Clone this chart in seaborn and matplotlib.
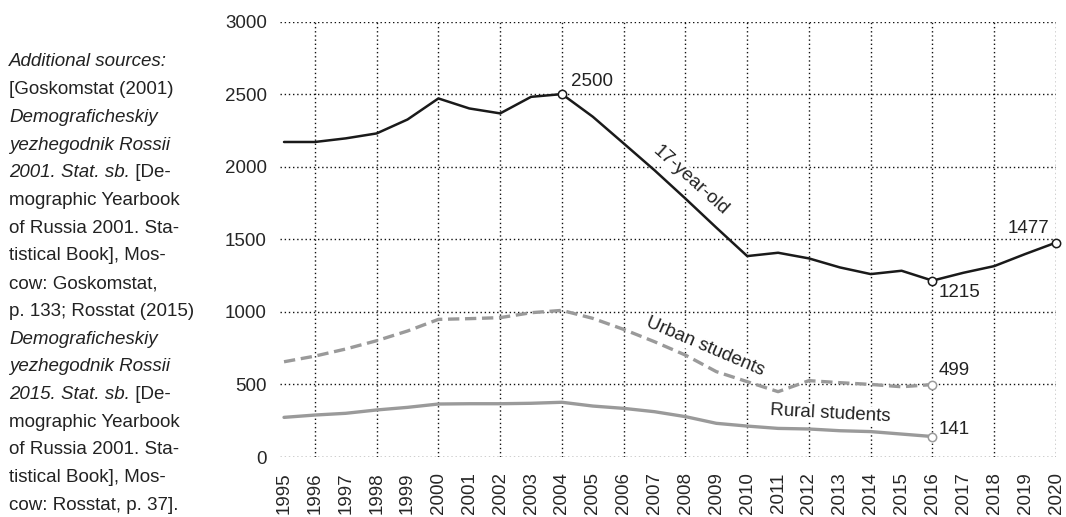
import numpy as np
import pandas as pd
import matplotlib
matplotlib.use("Agg")
import matplotlib.pyplot as plt
import seaborn as sns
from matplotlib import font_manager

# ---------------- data ----------------
years = list(range(1995, 2021))
age17 = [2170, 2170, 2195, 2229, 2325, 2470, 2401, 2367, 2481, 2500,
         2344, 2160, 1975, 1780, 1580, 1384, 1407, 1368, 1306, 1260,
         1283, 1215, 1269, 1315, 1398, 1477]
urban_years = list(range(1995, 2017))
urban = [656, 695, 744, 801, 868, 948, 953, 960, 994, 1010,
         955, 879, 794, 702, 588, 519, 450, 526, 512, 500, 484, 499]
rural_years = list(range(1995, 2017))
rural = [273, 289, 301, 324, 342, 365, 367, 367, 370, 377,
         351, 335, 312, 278, 232, 213, 197, 193, 181, 175, 158, 141]
series_labels = ["17-year-old", "Urban students", "Rural students"]
y_ticks = [0, 500, 1000, 1500, 2000, 2500, 3000]

source_lines = [
    [("Additional sources:", "italic")],
    [("[Goskomstat (2001)", "normal")],
    [("Demograficheskiy", "italic")],
    [("yezhegodnik Rossii", "italic")],
    [("2001. Stat. sb.", "italic"), (" [De-", "normal")],
    [("mographic Yearbook", "normal")],
    [("of Russia 2001. Sta-", "normal")],
    [("tistical Book], Mos-", "normal")],
    [("cow: Goskomstat,", "normal")],
    [("p. 133; Rosstat (2015)", "normal")],
    [("Demograficheskiy", "italic")],
    [("yezhegodnik Rossii", "italic")],
    [("2015. Stat. sb.", "italic"), (" [De-", "normal")],
    [("mographic Yearbook", "normal")],
    [("of Russia 2001. Sta-", "normal")],
    [("tistical Book], Mos-", "normal")],
    [("cow: Rosstat, p. 37].", "normal")],
]

# ---------------- style ----------------
sns.set_theme(style="white")
avail = {f.name for f in font_manager.fontManager.ttflist}
fam = "Liberation Sans" if "Liberation Sans" in avail else "DejaVu Sans"
plt.rcParams["font.family"] = [fam, "DejaVu Sans"]
plt.rcParams["text.color"] = "#222222"

W, H = 1066, 517
fig = plt.figure(figsize=(W / 100, H / 100), dpi=100)
ax = fig.add_axes([280 / W, 1 - 457 / H, (1056 - 280) / W, (457 - 21.5) / H])

df17 = pd.DataFrame({"year": years, "value": age17})
dfu = pd.DataFrame({"year": urban_years, "value": urban})
dfr = pd.DataFrame({"year": rural_years, "value": rural})

black = "#1a1a1a"
gray = "#9a9a9a"

sns.lineplot(data=df17, x="year", y="value", ax=ax, color=black, lw=1.8, zorder=4)
sns.lineplot(data=dfu, x="year", y="value", ax=ax, color=gray, lw=2.4,
             linestyle=(0, (3.4, 1.7)), zorder=3)
sns.lineplot(data=dfr, x="year", y="value", ax=ax, color=gray, lw=2.4, zorder=3)

# open markers
mk17 = df17[df17["year"].isin([2004, 2016, 2020])]
ax.scatter(mk17["year"], mk17["value"], s=36, facecolor="white",
           edgecolor=black, linewidth=1.1, zorder=6, clip_on=False)
for d in (dfu, dfr):
    last = d[d["year"] == 2016]
    ax.scatter(last["year"], last["value"], s=36, facecolor="white",
               edgecolor=gray, linewidth=1.1, zorder=6, clip_on=False)

ax.set_xlim(1994.87, 2020)
ax.set_ylim(0, 3000)
ax.set_xticks(years)
ax.set_xticklabels([str(y) for y in years], rotation=90, fontsize=13.5)
ax.set_yticks(y_ticks)
ax.set_yticklabels([str(v) for v in y_ticks], fontsize=13.5)
ax.tick_params(axis="x", length=0, pad=11)
ax.tick_params(axis="y", length=0, pad=9.5)
ax.set_xlabel("")
ax.set_ylabel("")
for s in ax.spines.values():
    s.set_visible(False)

# grid
for v in y_ticks:
    ax.axhline(v, color="#111111", lw=1.0, ls=(0, (1, 2)), zorder=1)
for yr in range(1996, 2021, 2):
    ax.axvline(yr, ymin=0, ymax=1, color="#111111", lw=1.0, ls=(0, (1, 2)), zorder=1)

# value labels
fs = 13.5
ax.text(2004.28, 2590, "2500", fontsize=fs, ha="left", va="center")
ax.text(2019.8, 1577, "1477", fontsize=fs, ha="right", va="center")
ax.text(2016.2, 1131, "1215", fontsize=fs, ha="left", va="center")
ax.text(2016.2, 594, "499", fontsize=fs, ha="left", va="center")
ax.text(2016.2, 186, "141", fontsize=fs, ha="left", va="center")

# series labels along lines (white background hides the grid behind them)
bb = dict(facecolor="white", edgecolor="none", pad=0.5)
ax.text(2008.17, 1905, series_labels[0], fontsize=fs, rotation=-42,
        ha="center", va="center", rotation_mode="anchor", bbox=bb, zorder=2)
ax.text(2008.63, 760, series_labels[1], fontsize=fs, rotation=-23,
        ha="center", va="center", rotation_mode="anchor", bbox=bb, zorder=2)
ax.text(2012.68, 301, series_labels[2], fontsize=fs, rotation=-3,
        ha="center", va="center", rotation_mode="anchor", bbox=bb, zorder=2)

# left source text
x0 = 9 / W
y0 = 62
step = 27.7
sfs = 13.5
for i, parts in enumerate(source_lines):
    yy = 1 - (y0 + i * step) / H
    prev = None
    for txt, style in parts:
        if prev is None:
            prev = fig.text(x0, yy, txt, fontsize=sfs, fontstyle=style,
                            ha="left", va="center")
        else:
            prev = ax.annotate(txt, xy=(1, 0.5), xycoords=last_t,
                               fontsize=sfs, fontstyle=style,
                               ha="left", va="center", annotation_clip=False)
        last_t = prev

fig.savefig("out.png", dpi=100)
